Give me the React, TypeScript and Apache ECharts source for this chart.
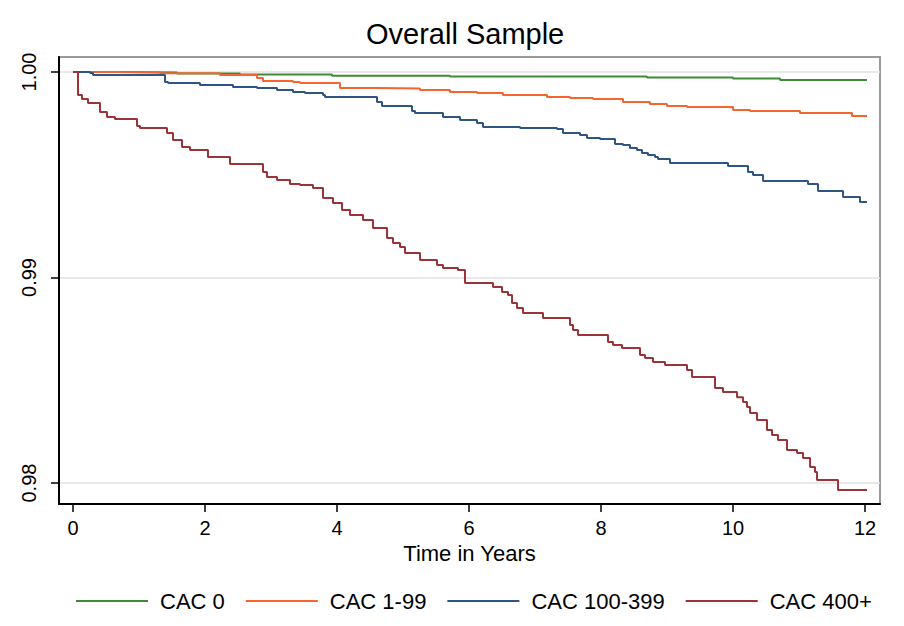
import React, { useEffect, useRef } from "react";
import * as echarts from "echarts";

const seriesNames = ["CAC 0", "CAC 1-99", "CAC 100-399", "CAC 400+"];
const seriesColors = ["#3f8a37", "#f6652e", "#2f5682", "#9a3439"];

const xTickValues = [0, 2, 4, 6, 8, 10, 12];
const yTickValues = [0.98, 0.99, 1.0];

const tCac0 = [0, 0.79, 1.576, 2.53, 3.924, 5.712, 8.697, 10.0, 10.712, 12.03];
const sCac0 = [1.0, 0.99998, 0.99993, 0.99988, 0.99982, 0.99978, 0.99973, 0.99968, 0.99961, 0.99961];

const tCac1 = [0, 0.667, 1.318, 2.227, 2.788, 2.879, 3.333, 3.439, 4.045, 4.606, 5.258, 5.712, 6.121, 6.515, 7.182, 7.53, 7.879, 8.333, 8.742, 9.0, 9.303, 10.0, 10.258, 11.015, 11.803, 12.03];
const sCac1 = [1.0, 0.99998, 0.99994, 0.99985, 0.99971, 0.99956, 0.99951, 0.99946, 0.99922, 0.9992, 0.99912, 0.99903, 0.99898, 0.99888, 0.99878, 0.99873, 0.99869, 0.99854, 0.99844, 0.99835, 0.9983, 0.99815, 0.9981, 0.998, 0.99786, 0.99786];

const tCac100 = [0, 0.258, 0.303, 1.394, 1.44, 1.924, 2.424, 2.788, 3.091, 3.333, 3.515, 3.788, 3.818, 4.606, 4.682, 5.136, 5.182, 5.606, 5.864, 6.121, 6.212, 6.773, 7.333, 7.424, 7.682, 7.788, 7.985, 8.212, 8.333, 8.439, 8.545, 8.621, 8.712, 8.818, 8.864, 9.045, 9.924, 10.227, 10.303, 10.455, 11.136, 11.288, 11.667, 11.924, 12.03];
const sCac100 = [1.0, 0.99995, 0.99985, 0.99951, 0.99946, 0.99937, 0.99927, 0.99922, 0.99912, 0.99903, 0.99898, 0.99888, 0.99878, 0.99854, 0.99835, 0.9981, 0.998, 0.99781, 0.99766, 0.99752, 0.99732, 0.99727, 0.99723, 0.99703, 0.99693, 0.99679, 0.99674, 0.9965, 0.99645, 0.9963, 0.9962, 0.99606, 0.99596, 0.99586, 0.99577, 0.99557, 0.99543, 0.99513, 0.99499, 0.9947, 0.99455, 0.99421, 0.99392, 0.99367, 0.99367];

const tCac400 = [0, 0.076, 0.136, 0.227, 0.409, 0.515, 0.636, 0.97, 1.015, 1.424, 1.515, 1.652, 1.773, 2.045, 2.379, 2.879, 2.939, 3.091, 3.288, 3.439, 3.636, 3.788, 3.939, 4.076, 4.197, 4.394, 4.545, 4.758, 4.848, 4.955, 5.03, 5.258, 5.515, 5.606, 5.833, 5.939, 6.364, 6.5, 6.591, 6.652, 6.727, 6.818, 7.121, 7.53, 7.576, 7.652, 8.106, 8.182, 8.318, 8.591, 8.667, 8.788, 8.97, 9.303, 9.379, 9.727, 9.848, 10.061, 10.152, 10.212, 10.258, 10.364, 10.515, 10.591, 10.682, 10.818, 10.97, 11.061, 11.167, 11.242, 11.273, 11.591, 12.03];
const sCac400 = [1.0, 0.99888, 0.99869, 0.99849, 0.99805, 0.99781, 0.99771, 0.99737, 0.99727, 0.99703, 0.99669, 0.99635, 0.9962, 0.99586, 0.99552, 0.99513, 0.99489, 0.99474, 0.99455, 0.9945, 0.99436, 0.99387, 0.99363, 0.99328, 0.99304, 0.9928, 0.99241, 0.99192, 0.99168, 0.99148, 0.99119, 0.99085, 0.99061, 0.99046, 0.99036, 0.98973, 0.98954, 0.98929, 0.98915, 0.98876, 0.98852, 0.98827, 0.98803, 0.98769, 0.98745, 0.9872, 0.98686, 0.98672, 0.98657, 0.98623, 0.98608, 0.98589, 0.98574, 0.9855, 0.98516, 0.98462, 0.98443, 0.98418, 0.98394, 0.9837, 0.98341, 0.98307, 0.98258, 0.98234, 0.98209, 0.98161, 0.98146, 0.98122, 0.98078, 0.98054, 0.98015, 0.97966, 0.97966];

const allTimes = [tCac0, tCac1, tCac100, tCac400];
const allSurv = [sCac0, sCac1, sCac100, sCac400];

const FONT = "Liberation Sans, Arial, Helvetica, sans-serif";

export default function App() {
  const ref = useRef<HTMLDivElement>(null);
  useEffect(() => {
    if (!ref.current) return;
    const chart = echarts.init(ref.current, undefined, { renderer: "svg" });
    const series = seriesNames.map((name, i) => ({
      name,
      type: "line",
      step: "end",
      symbol: "none",
      data: allTimes[i].map((t, j) => [t, allSurv[i][j]]),
      lineStyle: { color: seriesColors[i], width: 2 },
      itemStyle: { color: seriesColors[i] },
      z: 3 + i,
    }));
    chart.setOption({
      animation: false,
      backgroundColor: "#ffffff",
      textStyle: { fontFamily: FONT },
      title: {
        text: "Overall Sample",
        left: 361,
        top: 14,
        textStyle: { fontSize: 29, fontWeight: "normal", color: "#000", fontFamily: FONT },
      },
      grid: {
        left: 59,
        right: 24,
        top: 57,
        bottom: 122,
        show: true,
        borderColor: "#9a9a9a",
        borderWidth: 2,
      },
      legend: {
        left: 71,
        top: 585,
        icon: "rect",
        itemWidth: 72,
        itemHeight: 2,
        itemGap: 21,
        textStyle: { fontSize: 22, color: "#000", fontFamily: FONT, padding: [0, 0, 0, 7] },
        data: seriesNames,
      },
      xAxis: {
        type: "value",
        min: -0.212,
        max: 12.227,
        name: "Time in Years",
        nameLocation: "middle",
        nameGap: 34,
        nameTextStyle: { fontSize: 22, color: "#000", fontFamily: FONT },
        axisLine: { show: true, onZero: false, lineStyle: { color: "#000", width: 2 } },
        axisTick: { show: true, length: 8, customValues: xTickValues, lineStyle: { color: "#000", width: 1.5 } },
        axisLabel: {
          customValues: xTickValues,
          fontSize: 20,
          color: "#000",
          margin: 14,
          fontFamily: FONT,
          formatter: (v: number) => String(v),
        },
        splitLine: { show: false },
      },
      yAxis: {
        type: "value",
        min: 0.97898,
        max: 1.00073,
        axisLine: { show: true, onZero: false, lineStyle: { color: "#000", width: 2 } },
        axisTick: { show: true, length: 8, customValues: yTickValues, lineStyle: { color: "#000", width: 1.5 } },
        axisLabel: {
          customValues: yTickValues,
          rotate: 90,
          fontSize: 20,
          color: "#000",
          margin: 20,
          fontFamily: FONT,
          formatter: (v: number) => v.toFixed(2),
        },
        splitLine: { show: true, lineStyle: { color: "#e2e2e2", width: 1.5 } },
      },
      series,
    });
    return () => chart.dispose();
  }, []);
  return (
    <div
      ref={ref}
      style={{ position: "absolute", left: 0, top: 0, width: 904, height: 626 }}
    />
  );
}
